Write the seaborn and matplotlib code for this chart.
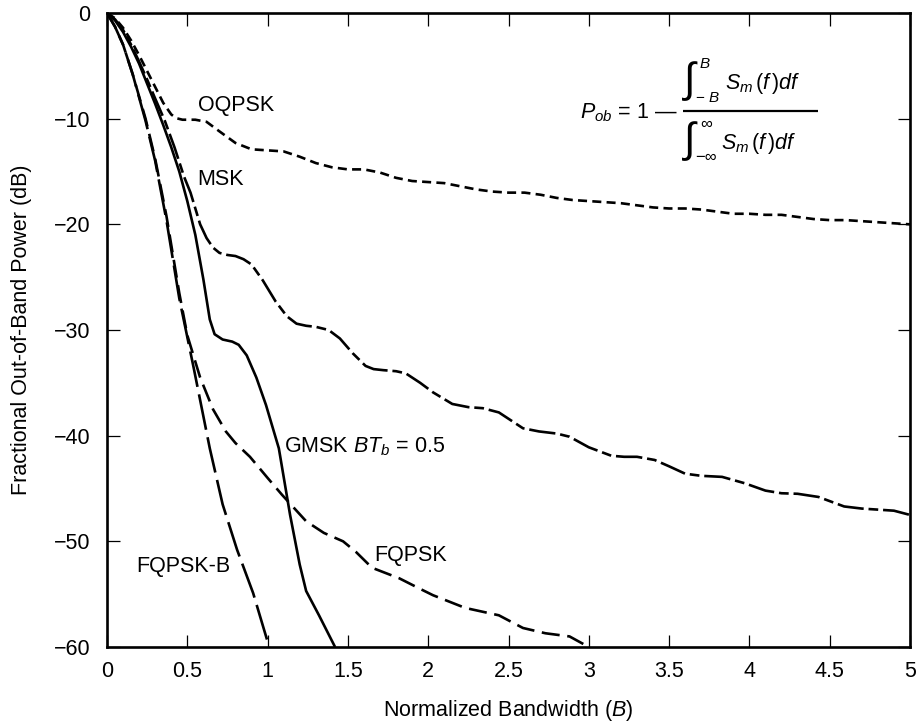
import matplotlib
matplotlib.use("Agg")
import matplotlib.pyplot as plt
import seaborn as sns
import pandas as pd

# ---------------- data ----------------
oqpsk_B = [0, 0.05, 0.1, 0.15, 0.2, 0.25, 0.3, 0.35, 0.4, 0.43, 0.47, 0.55, 0.62, 0.7, 0.8, 0.9,
           1.0, 1.1, 1.2, 1.3, 1.4, 1.5, 1.6, 1.7, 1.8, 1.9, 2.0, 2.1, 2.2, 2.3, 2.4, 2.5,
           2.6, 2.7, 2.8, 2.9, 3.0, 3.1, 3.2, 3.3, 3.4, 3.5, 3.6, 3.7, 3.8, 3.9, 4.0, 4.1,
           4.2, 4.3, 4.4, 4.5, 4.6, 4.7, 4.8, 4.9, 5.0]
oqpsk_dB = [0, -0.5, -1.4, -2.6, -4.0, -5.5, -7.0, -8.5, -9.6, -9.95, -10.1, -10.1, -10.3, -11.2,
            -12.3, -12.9, -13.0, -13.1, -13.6, -14.2, -14.6, -14.8, -14.8, -15.1, -15.6,
            -15.9, -16.0, -16.1, -16.4, -16.7, -16.9, -17.0, -17.0, -17.2, -17.5, -17.7,
            -17.8, -17.9, -18.0, -18.2, -18.4, -18.5, -18.5, -18.6, -18.8, -19.0, -19.0,
            -19.1, -19.1, -19.3, -19.5, -19.6, -19.6, -19.7, -19.8, -19.9, -20.0]

msk_B = [0, 0.05, 0.1, 0.15, 0.2, 0.25, 0.3, 0.36, 0.42, 0.48, 0.52, 0.58, 0.62, 0.66, 0.7,
         0.75, 0.8, 0.85, 0.9, 0.97, 1.05, 1.12, 1.18, 1.24, 1.3, 1.38, 1.45, 1.53, 1.61,
         1.66, 1.72, 1.8, 1.86, 1.95, 2.03, 2.15, 2.25, 2.34, 2.44, 2.52, 2.59, 2.69, 2.8,
         2.88, 3.0, 3.14, 3.22, 3.3, 3.41, 3.5, 3.6, 3.7, 3.83, 3.97, 4.1, 4.2, 4.3, 4.43,
         4.59, 4.7, 4.8, 4.9, 5.0]
msk_dB = [0, -0.6, -1.6, -3.0, -4.6, -6.3, -8.1, -10.2, -12.7, -15.5, -17.0, -20.0, -21.3,
          -22.2, -22.7, -22.9, -23.0, -23.3, -23.8, -25.3, -27.3, -28.7, -29.4, -29.6, -29.7,
          -30.0, -30.8, -32.2, -33.4, -33.7, -33.8, -33.9, -34.1, -35.0, -35.9, -37.0, -37.3,
          -37.4, -37.8, -38.6, -39.3, -39.6, -39.8, -40.1, -41.1, -41.9, -42.0, -42.0, -42.3,
          -42.9, -43.6, -43.8, -43.9, -44.5, -45.2, -45.45, -45.5, -45.8, -46.7, -46.9,
          -47.0, -47.1, -47.5]

gmsk_B = [0, 0.05, 0.1, 0.15, 0.2, 0.25, 0.3, 0.35, 0.4, 0.45, 0.5, 0.55, 0.6, 0.64, 0.67,
          0.72, 0.78, 0.82, 0.87, 0.93, 0.99, 1.07, 1.14, 1.2, 1.24, 1.32, 1.42]
gmsk_dB = [0, -0.7, -1.8, -3.2, -4.8, -6.7, -8.6, -10.6, -12.7, -15.0, -17.8, -21.0, -25.2,
           -29.0, -30.4, -30.9, -31.1, -31.4, -32.4, -34.5, -37.1, -41.2, -47.5, -52.2,
           -54.7, -57.0, -60.0]

fqpsk_B = [0, 0.05, 0.1, 0.16, 0.24, 0.3, 0.37, 0.45, 0.5, 0.58, 0.66, 0.74, 0.8, 0.89, 1.0,
           1.09, 1.24, 1.35, 1.47, 1.55, 1.65, 1.82, 1.95, 2.03, 2.23, 2.44, 2.59, 2.73,
           2.88, 3.0]
fqpsk_dB = [0, -1.3, -3.0, -5.8, -10.0, -13.8, -19.2, -26.5, -30.5, -34.5, -37.5, -39.6,
            -40.7, -42.0, -44.0, -45.6, -48.1, -49.2, -50.0, -51.0, -52.5, -53.5, -54.5,
            -55.1, -56.3, -57.0, -58.2, -58.7, -59.0, -60.0]

fqpskb_B = [0, 0.05, 0.1, 0.16, 0.24, 0.3, 0.37, 0.45, 0.54, 0.64, 0.72, 0.81, 0.91, 1.01]
fqpskb_dB = [0, -1.3, -3.0, -5.8, -10.2, -14.0, -19.6, -27.0, -33.6, -41.2, -46.5, -50.8,
             -54.9, -60.0]

x_ticks = [0, 0.5, 1, 1.5, 2, 2.5, 3, 3.5, 4, 4.5, 5]
x_tick_labels = ["0", "0.5", "1", "1.5", "2", "2.5", "3", "3.5", "4", "4.5", "5"]
y_ticks = [0, -10, -20, -30, -40, -50, -60]
y_tick_labels = ["0", "\u221210", "\u221220", "\u221230", "\u221240", "\u221250", "\u221260"]

# ---------------- style ----------------
sns.set_style("ticks")
plt.rcParams["font.family"] = ["Liberation Sans", "DejaVu Sans"]
plt.rcParams["mathtext.fontset"] = "custom"
plt.rcParams["mathtext.rm"] = "Liberation Sans"
plt.rcParams["mathtext.it"] = "Liberation Sans:italic"
plt.rcParams["mathtext.bf"] = "Liberation Sans:bold"
plt.rcParams["lines.scale_dashes"] = False
for k in ["text.color", "axes.labelcolor", "xtick.color", "ytick.color",
          "xtick.labelcolor", "ytick.labelcolor"]:
    plt.rcParams[k] = "black"

FS = 15.5
fig = plt.figure(figsize=(9.19, 7.23), dpi=100)
ax = fig.add_axes([107 / 919, (723 - 647) / 723, (910 - 107) / 919, (647 - 13) / 723])

series = [
    ("OQPSK", oqpsk_B, oqpsk_dB, (6.5, 3.8)),
    ("MSK", msk_B, msk_dB, (19, 3.5, 7, 3.5)),
    ("GMSK", gmsk_B, gmsk_dB, None),
    ("FQPSK", fqpsk_B, fqpsk_dB, (13, 5.5)),
    ("FQPSK-B", fqpskb_B, fqpskb_dB, (26, 5.5)),
]

for name, xs, ys, dash in series:
    df = pd.DataFrame({"B": xs, "dB": ys})
    sns.lineplot(data=df, x="B", y="dB", ax=ax, color="black", lw=1.9,
                 sort=False, estimator=None)
    line = ax.lines[-1]
    if dash is not None:
        line.set_dashes(dash)
    line.set_solid_capstyle("butt")
    line.set_dash_capstyle("butt")
    line.set_solid_joinstyle("round")
    line.set_dash_joinstyle("round")

ax.set_xlim(0, 5)
ax.set_ylim(-60, 0)
ax.set_xticks(x_ticks)
ax.set_xticklabels(x_tick_labels)
ax.set_yticks(y_ticks)
ax.set_yticklabels(y_tick_labels)

for sp in ax.spines.values():
    sp.set_visible(True)
    sp.set_linewidth(1.9)
    sp.set_color("black")

ax.tick_params(axis="both", which="both", direction="in", length=9, width=0.9,
               top=True, right=True, labelsize=FS, colors="black")
ax.tick_params(axis="x", pad=10)
ax.tick_params(axis="y", pad=12)

ax.set_xlabel("Normalized Bandwidth ($\\mathit{B}$)", fontsize=FS, color="black")
ax.set_ylabel("Fractional Out-of-Band Power (dB)", fontsize=FS, color="black")
ax.xaxis.set_label_coords(0.5, -0.081)
ax.yaxis.set_label_coords(-0.094, 0.5)

# curve labels
ax.text(0.565, -8.8, "OQPSK", fontsize=FS, va="center", ha="left")
ax.text(0.565, -15.8, "MSK", fontsize=FS, va="center", ha="left")
ax.text(1.105, -41.0, "GMSK $BT_b$ = 0.5", fontsize=FS, va="center", ha="left")
ax.text(1.665, -51.3, "FQPSK", fontsize=FS, va="center", ha="left")
ax.text(0.184, -52.4, "FQPSK-B", fontsize=FS, va="center", ha="left")

# formula (built from pieces, positioned in pixel-derived axes fractions)
def px(xp, yp):
    return ((xp - 107) / 803, (647 - yp) / 634)

T = ax.transAxes
ax.text(*px(580, 113), "$P_{ob}$ = 1 \u2014", fontsize=FS, va="center", ha="left", transform=T)
ax.plot([px(683, 0)[0], px(818, 0)[0]], [px(0, 110.7)[1]] * 2, color="black", lw=1.6,
        transform=T, solid_capstyle="butt")
# numerator
ax.text(*px(690, 81), "\u222B", fontsize=30, va="center", ha="center", transform=T)
ax.text(*px(699, 64), "$B$", fontsize=11, va="center", ha="left", transform=T)
ax.text(*px(695, 98), "\u2212 $B$", fontsize=11, va="center", ha="left", transform=T)
ax.text(*px(725, 83), r"$S_m\,(f\,)df$", fontsize=FS, va="center", ha="left", transform=T)
# denominator
ax.text(*px(690, 141), "\u222B", fontsize=30, va="center", ha="center", transform=T)
ax.text(*px(700, 124), "\u221E", fontsize=12, va="center", ha="left", transform=T)
ax.text(*px(695, 157), "\u2212\u221E", fontsize=12, va="center", ha="left", transform=T)
ax.text(*px(721, 143), r"$S_m\,(f\,)df$", fontsize=FS, va="center", ha="left", transform=T)

fig.savefig("out.png", dpi=100)
